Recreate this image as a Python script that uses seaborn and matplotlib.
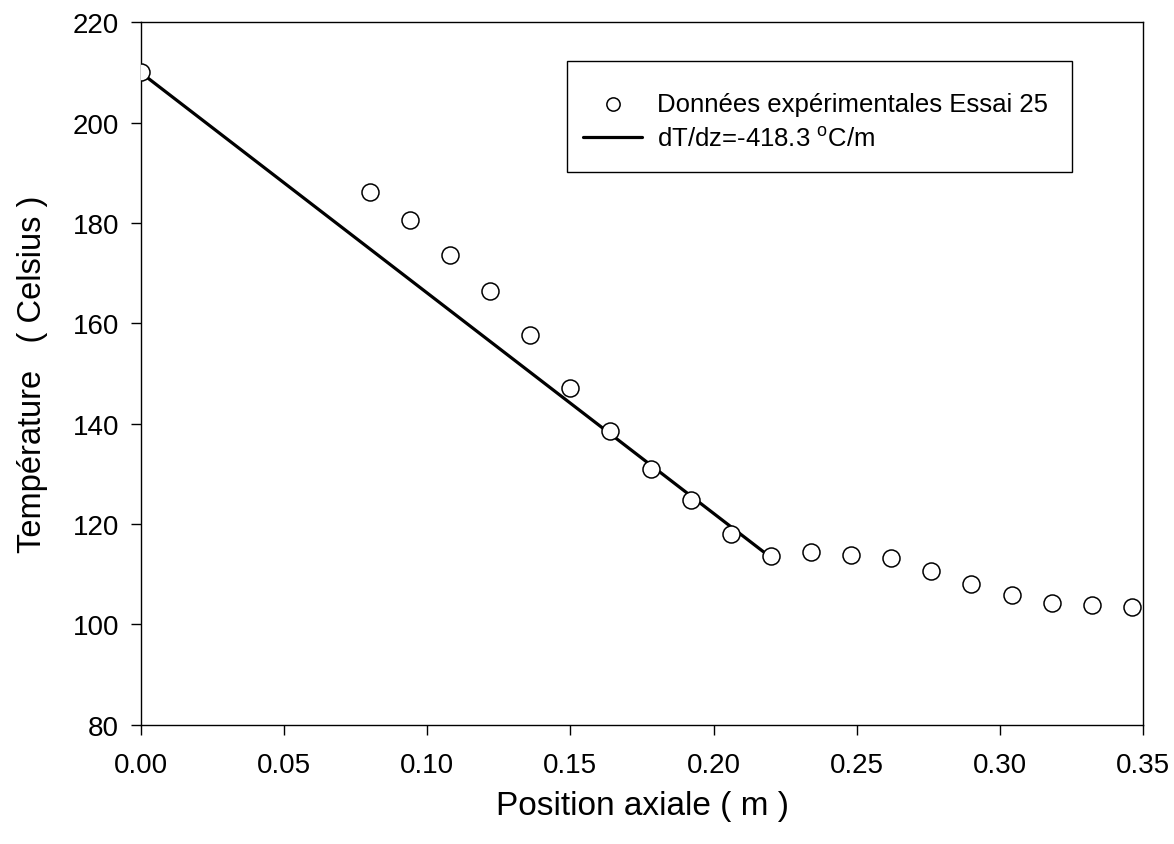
import matplotlib
matplotlib.use("Agg")
import matplotlib.pyplot as plt
from matplotlib.patches import Rectangle
import seaborn as sns
import pandas as pd

# Data
position_m = [0.000, 0.080, 0.094, 0.108, 0.122, 0.136, 0.150, 0.164, 0.178, 0.192,
              0.206, 0.220, 0.234, 0.248, 0.262, 0.276, 0.290, 0.304, 0.318, 0.332, 0.346]
temperature_c = [210.0, 186.1, 180.5, 173.7, 166.4, 157.7, 147.2, 138.6, 131.0, 124.8,
                 118.1, 113.7, 114.5, 113.9, 113.2, 110.6, 108.0, 105.8, 104.3, 103.9, 103.4]
fit_x = [0.0, 0.218]
fit_y = [210.0, 114.2]

xticks = [0.00, 0.05, 0.10, 0.15, 0.20, 0.25, 0.30, 0.35]
yticks = [80, 100, 120, 140, 160, 180, 200, 220]

label_points = "Données expérimentales Essai 25"
label_fit = r"dT/dz=-418.3 $^{\mathregular{o}}$C/m"

sns.set_style("ticks")
plt.rcParams['font.family'] = ['Liberation Sans', 'DejaVu Sans']
plt.rcParams['mathtext.default'] = 'regular'
plt.rcParams.update({
    "text.color": "black", "axes.labelcolor": "black",
    "xtick.color": "black", "ytick.color": "black", "axes.edgecolor": "black",
})

W, H = 1174, 845
fig = plt.figure(figsize=(W / 100, H / 100), dpi=100)
ax = fig.add_axes([0.1198, 0.1412, 0.9739 - 0.1198, 0.9724 - 0.1412])

df_pts = pd.DataFrame({"x": position_m, "y": temperature_c})
df_fit = pd.DataFrame({"x": fit_x, "y": fit_y})

sns.scatterplot(data=df_pts, x="x", y="y", ax=ax, marker="o", s=150,
                facecolor="white", edgecolor="black", linewidth=1.1,
                label=label_points, zorder=3)
sns.lineplot(data=df_fit, x="x", y="y", ax=ax, color="black", linewidth=2.3,
             label=label_fit, zorder=2)

ax.set_xlim(0, 0.35)
ax.set_ylim(80, 220)
ax.set_xticks(xticks)
ax.set_xticklabels([f"{v:.2f}" for v in xticks])
ax.set_yticks(yticks)
ax.set_yticklabels([str(v) for v in yticks])

for s in ax.spines.values():
    s.set_visible(True)
    s.set_color("black")
    s.set_linewidth(1.0)

ax.tick_params(axis="both", direction="out", length=7.5, width=1.0, colors="black",
               labelsize=20)
ax.tick_params(axis="x", pad=12)
ax.tick_params(axis="y", pad=8)

ax.set_xlabel("Position axiale ( m )", fontsize=24, labelpad=9)
ax.set_ylabel("Température   ( Celsius )", fontsize=23.5, labelpad=18)

# legend frame (drawn separately to match padding)
frame = Rectangle((567 / W, 1 - 173 / H), (1072 - 567) / W, (173 - 62) / H,
                  transform=fig.transFigure, facecolor="white", edgecolor="black",
                  linewidth=1.0, zorder=5)
ax.add_patch(frame)
frame.set_clip_on(False)

leg = ax.legend(loc="upper left", bbox_to_anchor=(583 / W, 1 - 93 / H),
                bbox_transform=fig.transFigure, borderaxespad=0, borderpad=0,
                frameon=False, fontsize=18.5,
                handlelength=2.3, handletextpad=0.58,
                labelspacing=0.43, markerscale=0.78)
leg.set_zorder(6)
for t in leg.get_texts():
    t.set_color("black")

fig.savefig("out.png", dpi=100, facecolor="white")
